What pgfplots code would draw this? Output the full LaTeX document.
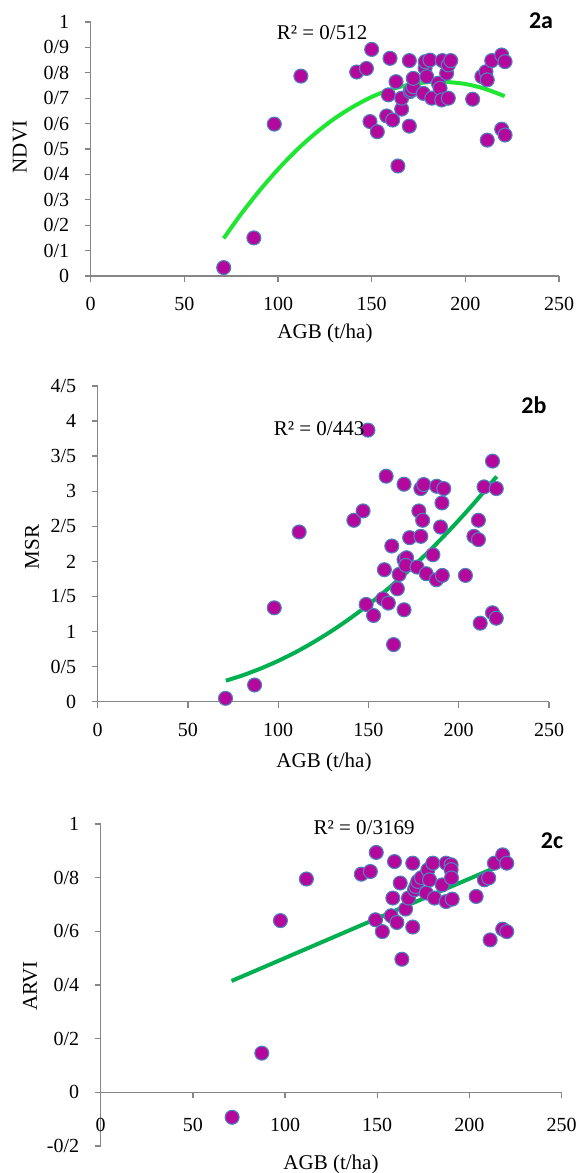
\documentclass[border=0pt]{standalone}
\usepackage{fontspec}
\setmainfont{Liberation Serif}
\newfontfamily\calibri{Carlito}
\usepackage{pgfplots}
\pgfplotsset{compat=1.18}

\definecolor{dotfill}{RGB}{180,8,156}
\definecolor{dotedge}{RGB}{79,129,189}
\definecolor{lime}{RGB}{30,230,50}
\definecolor{trend}{RGB}{0,176,80}
\definecolor{axgray}{RGB}{134,134,134}

\pgfplotsset{
  regr/.style={
    scale only axis, anchor=south west,
    xmin=0, xmax=250,
    xtick={0,50,100,150,200,250},
    xticklabels={0,50,100,150,200,250},
    tick align=outside, major tick length=6pt,
    axis line style={draw=axgray, line width=1.3pt, -},
    tick style={draw=axgray, line width=1.3pt},
    tick label style={font=\rmfamily\fontsize{20}{22}\selectfont},
    yticklabel style={xshift=-12pt},
    xticklabel style={yshift=-12pt},
    clip=false,
  },
  dots/.style={only marks, mark=*, mark size=7pt,
    mark options={fill=dotfill, draw=dotedge, line width=1.1pt}},
}

\begin{document}
\begin{tikzpicture}
\useasboundingbox (0,0) rectangle (584pt,1173pt);

% ---- 2a: NDVI ----
\begin{axis}[regr, axis x line*=bottom, axis y line*=left,
  xtick pos=bottom, ytick pos=left,
  at={(90.7pt,897pt)}, width=468.3pt, height=254pt,
  ymin=0, ymax=1,
  ytick={0,0.1,0.2,0.3,0.4,0.5,0.6,0.7,0.8,0.9,1},
  yticklabels={0,0/1,0/2,0/3,0/4,0/5,0/6,0/7,0/8,0/9,1}]
\addplot[dots] coordinates {
 (71.0,0.033) (87.1,0.150) (98.0,0.598) (112.2,0.787) (142.0,0.803)
 (147.2,0.817) (150.0,0.892) (149.1,0.608) (153.0,0.568) (159.8,0.857)
 (158.0,0.630) (158.9,0.713) (161.2,0.614) (163.0,0.765) (164.0,0.433)
 (166.0,0.657) (166.0,0.700) (170.1,0.848) (170.1,0.590) (170.5,0.726)
 (171.2,0.732) (172.2,0.745) (172.2,0.778) (177.6,0.719) (178.5,0.818)
 (178.6,0.844) (179.4,0.785) (181.1,0.850) (182.1,0.700) (185.6,0.759)
 (186.5,0.739) (187.4,0.693) (187.7,0.848) (190.0,0.798) (190.9,0.831)
 (190.9,0.700) (192.2,0.848) (203.9,0.696) (208.8,0.785) (211.0,0.804)
 (211.7,0.772) (211.7,0.535) (214.1,0.848) (219.4,0.870) (219.4,0.578)
 (221.2,0.844) (221.2,0.555)
};
\addplot[lime, line width=4pt, smooth] coordinates {
 (71,0.148) (80,0.241) (90,0.335) (100,0.420) (110,0.496) (120,0.562)
 (130,0.619) (140,0.666) (150,0.705) (160,0.734) (170,0.753) (180,0.763)
 (186,0.765) (190,0.764) (200,0.756) (210,0.738) (221,0.708)
};
\end{axis}

% ---- 2b: MSR ----
\begin{axis}[regr, axis x line*=bottom, axis y line*=left,
  xtick pos=bottom, ytick pos=left,
  at={(97.7pt,471.3pt)}, width=451.3pt, height=315.7pt,
  ymin=0, ymax=4.5,
  ytick={0,0.5,1,1.5,2,2.5,3,3.5,4,4.5},
  yticklabels={0,0/5,1,1/5,2,2/5,3,3/5,4,4/5}]
\addplot[dots] coordinates {
 (70.8,0.048) (86.9,0.238) (97.8,1.338) (111.6,2.419) (141.9,2.586)
 (147.0,2.719) (149.7,3.871) (148.7,1.386) (152.8,1.229) (159.8,3.214)
 (158.8,1.881) (158.0,1.467) (161.0,1.405) (162.9,2.219) (163.9,0.814)
 (166.0,1.610) (167.0,1.814) (169.7,3.100) (169.7,1.310) (169.7,2.024)
 (171.1,2.052) (170.7,1.943) (172.8,2.338) (176.9,1.919) (177.9,2.719)
 (179.0,2.357) (179.0,3.038) (180.0,2.586) (180.6,3.095) (182.0,1.824)
 (185.7,2.095) (187.8,3.071) (187.6,1.738) (190.9,1.800) (189.9,2.490)
 (190.7,2.833) (191.7,3.038) (203.7,1.800) (208.4,2.357) (210.9,2.586)
 (210.9,2.310) (211.9,1.119) (214.0,3.062) (218.7,3.429) (218.7,1.267)
 (220.8,1.190) (220.8,3.038)
};
\addplot[trend, line width=4pt, smooth] coordinates {
 (71,0.300) (80,0.373) (90,0.470) (100,0.582) (110,0.710) (120,0.855)
 (130,1.015) (140,1.191) (150,1.384) (160,1.592) (170,1.817) (180,2.057)
 (190,2.313) (200,2.586) (210,2.874) (221,3.210)
};
\end{axis}

% ---- 2c: ARVI ----
\begin{axis}[regr, axis x line=middle, axis y line*=left, ytick pos=left,
  x axis line style={-}, xtick align=outside,
  xticklabel style={yshift=-4pt},
  at={(100.7pt,27pt)}, width=460.8pt, height=322pt,
  hide obscured x ticks=false, hide obscured y ticks=false,
  ymin=-0.2, ymax=1,
  ytick={-0.2,0,0.2,0.4,0.6,0.8,1},
  yticklabels={-0/2,0,0/2,0/4,0/6,0/8,1}]
\addplot[dots] coordinates {
 (71.3,-0.093) (87.4,0.146) (97.5,0.640) (111.6,0.795) (141.4,0.813)
 (146.3,0.823) (149.5,0.894) (149.1,0.643) (152.8,0.599) (159.4,0.860)
 (158.5,0.724) (157.6,0.658) (160.7,0.633) (162.5,0.780) (163.4,0.496)
 (165.4,0.683) (167.0,0.724) (169.3,0.854) (169.3,0.616) (170.3,0.755)
 (171.0,0.767) (172.0,0.786) (174.0,0.800) (176.6,0.743) (177.5,0.829)
 (178.4,0.792) (180.2,0.854) (181.1,0.724) (185.3,0.773) (187.4,0.854)
 (187.4,0.711) (190.1,0.848) (190.1,0.830) (190.7,0.720) (190.3,0.799)
 (203.7,0.730) (208.2,0.792) (210.5,0.799) (211.3,0.568) (213.6,0.854)
 (218.1,0.885) (220.3,0.854) (218.1,0.608) (220.3,0.599)
};
\addplot[trend, line width=4pt] coordinates {(71,0.415) (220,0.855)};
\end{axis}

% ---- labels and annotations ----
\begin{scope}[every node/.style={font=\fontsize{21}{24}\selectfont, inner sep=0pt}]
\node[rotate=90] at (20pt,1026pt) {NDVI};
\node at (325pt,840pt) {AGB (t/ha)};
\node at (322pt,1140pt) {R² = 0/512};
\node[rotate=90] at (32pt,626pt) {MSR};
\node at (324pt,411pt) {AGB (t/ha)};
\node at (319pt,744pt) {R² = 0/443};
\node[rotate=90] at (30pt,187pt) {ARVI};
\node at (331pt,9pt) {AGB (t/ha)};
\node at (364pt,345pt) {R² = 0/3169};
\end{scope}
\begin{scope}[every node/.style={font=\calibri\bfseries\fontsize{24}{26}\selectfont, inner sep=0pt}]
\node at (541pt,1152pt) {2a};
\node at (534pt,768pt) {2b};
\node at (552pt,332pt) {2c};
\end{scope}
\end{tikzpicture}
\end{document}
